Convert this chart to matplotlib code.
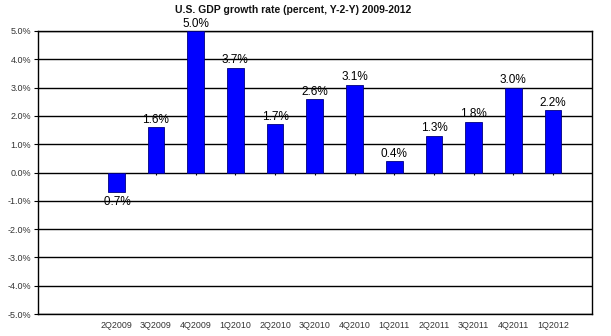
import numpy as np
import matplotlib.pyplot as plt

# U.S. GDP growth, year over year, in percent
quarters = ["2Q2009", "3Q2009", "4Q2009", "1Q2010", "2Q2010", "3Q2010",
            "4Q2010", "1Q2011", "2Q2011", "3Q2011", "4Q2011", "1Q2012"]
growth = [-0.7, 1.6, 5.0, 3.7, 1.7, 2.6, 3.1, 0.4, 1.3, 1.8, 3.0, 2.2]
y_ticks = [-5, -4, -3, -2, -1, 0, 1, 2, 3, 4, 5]

plt.rcParams['font.family'] = ['Liberation Sans', 'DejaVu Sans']

fig = plt.figure(figsize=(6.11, 3.36), dpi=100)
ax = fig.add_axes([38 / 611, 22 / 336, 554 / 611, 283 / 336])

x = np.arange(len(quarters))
bars = ax.bar(x, growth, width=0.42, color='#0000ff', edgecolor='#000080',
              linewidth=0.6, zorder=3)

# grid lines and small ticks on the zero line
for t in y_ticks:
    ax.axhline(t, color='black', linewidth=1.0, zorder=1)
ax.vlines(x, -0.1, 0, color='black', linewidth=0.8, zorder=2)

for xi, v in zip(x, growth):
    if v >= 0:
        ax.text(xi, v + 0.05, f"{v:.1f}%", ha='center', va='bottom', fontsize=8.5, zorder=4)
    else:
        ax.text(xi, v - 0.12, f"{v:.1f}%", ha='center', va='top', fontsize=8.5, zorder=4)

ax.set_xlim(-1.97, 11.98)
ax.set_ylim(-5, 5)
ax.set_yticks(y_ticks)
ax.set_yticklabels([f"{t:.1f}%" for t in y_ticks], fontsize=6.5, color='#333333')
ax.tick_params(axis='y', length=3, width=0.8, pad=2)
ax.set_xticks(x)
ax.set_xticklabels(quarters, fontsize=6.4, color='#333333')
ax.tick_params(axis='x', length=0, pad=5)
for s in ax.spines.values():
    s.set_linewidth(1.0)
    s.set_color('black')

fig.text(293 / 611, 1 - 10 / 336, "U.S. GDP growth rate (percent, Y-2-Y) 2009-2012",
         ha='center', va='center', fontsize=7.5, fontweight='bold', color='#111111')

fig.savefig("out.png", dpi=100)
